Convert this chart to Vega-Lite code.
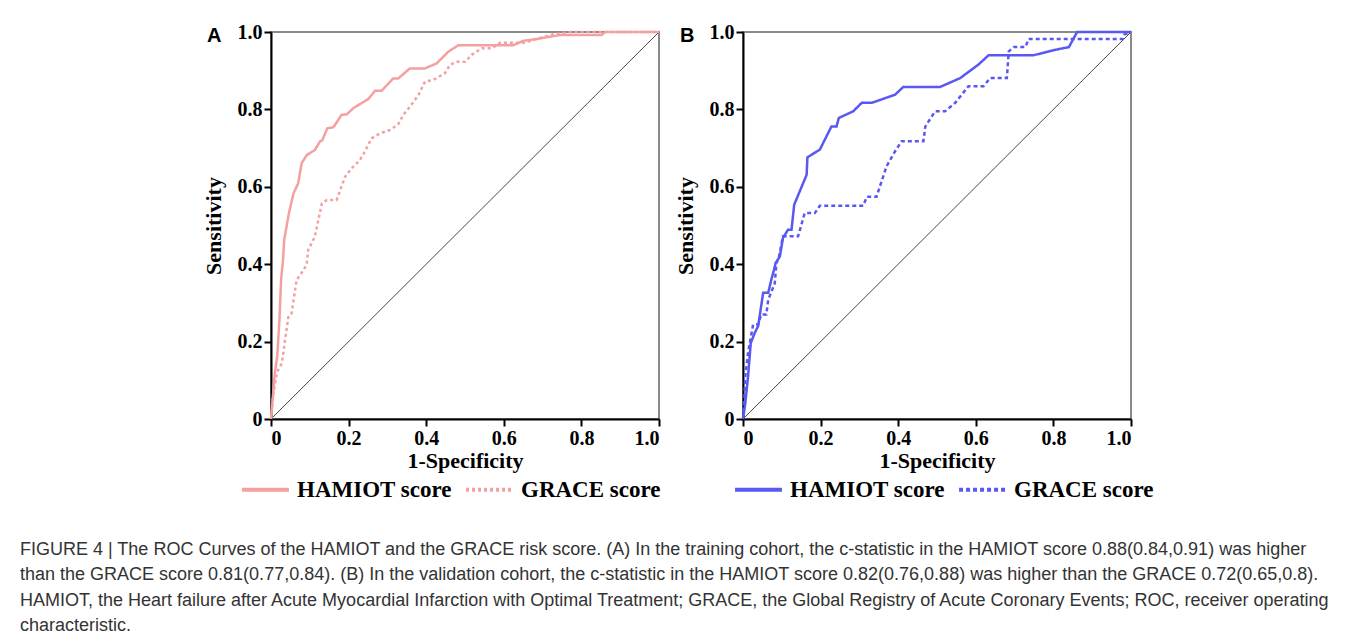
{
  "$schema": "https://vega.github.io/schema/vega-lite/v6.json",
  "background": "white",
  "padding": {"left": 20, "top": 21, "right": 5, "bottom": 5},
  "datasets": {
    "diag": [{"fpr": 0, "tpr": 0}, {"fpr": 1, "tpr": 1}],
    "roc": [
      {"panel": "A", "series": "HAMIOT score", "fpr": 0, "tpr": 0},
      {"panel": "A", "series": "HAMIOT score", "fpr": 0.005, "tpr": 0.06},
      {"panel": "A", "series": "HAMIOT score", "fpr": 0.010, "tpr": 0.12},
      {"panel": "A", "series": "HAMIOT score", "fpr": 0.016, "tpr": 0.161},
      {"panel": "A", "series": "HAMIOT score", "fpr": 0.022, "tpr": 0.26},
      {"panel": "A", "series": "HAMIOT score", "fpr": 0.026, "tpr": 0.36},
      {"panel": "A", "series": "HAMIOT score", "fpr": 0.031, "tpr": 0.411},
      {"panel": "A", "series": "HAMIOT score", "fpr": 0.034, "tpr": 0.463},
      {"panel": "A", "series": "HAMIOT score", "fpr": 0.046, "tpr": 0.531},
      {"panel": "A", "series": "HAMIOT score", "fpr": 0.058, "tpr": 0.583},
      {"panel": "A", "series": "HAMIOT score", "fpr": 0.070, "tpr": 0.609},
      {"panel": "A", "series": "HAMIOT score", "fpr": 0.079, "tpr": 0.661},
      {"panel": "A", "series": "HAMIOT score", "fpr": 0.092, "tpr": 0.682},
      {"panel": "A", "series": "HAMIOT score", "fpr": 0.113, "tpr": 0.695},
      {"panel": "A", "series": "HAMIOT score", "fpr": 0.126, "tpr": 0.717},
      {"panel": "A", "series": "HAMIOT score", "fpr": 0.132, "tpr": 0.72},
      {"panel": "A", "series": "HAMIOT score", "fpr": 0.145, "tpr": 0.751},
      {"panel": "A", "series": "HAMIOT score", "fpr": 0.161, "tpr": 0.754},
      {"panel": "A", "series": "HAMIOT score", "fpr": 0.182, "tpr": 0.786},
      {"panel": "A", "series": "HAMIOT score", "fpr": 0.195, "tpr": 0.787},
      {"panel": "A", "series": "HAMIOT score", "fpr": 0.212, "tpr": 0.803},
      {"panel": "A", "series": "HAMIOT score", "fpr": 0.251, "tpr": 0.827},
      {"panel": "A", "series": "HAMIOT score", "fpr": 0.268, "tpr": 0.848},
      {"panel": "A", "series": "HAMIOT score", "fpr": 0.285, "tpr": 0.848},
      {"panel": "A", "series": "HAMIOT score", "fpr": 0.315, "tpr": 0.880},
      {"panel": "A", "series": "HAMIOT score", "fpr": 0.328, "tpr": 0.880},
      {"panel": "A", "series": "HAMIOT score", "fpr": 0.358, "tpr": 0.906},
      {"panel": "A", "series": "HAMIOT score", "fpr": 0.397, "tpr": 0.906},
      {"panel": "A", "series": "HAMIOT score", "fpr": 0.427, "tpr": 0.919},
      {"panel": "A", "series": "HAMIOT score", "fpr": 0.457, "tpr": 0.949},
      {"panel": "A", "series": "HAMIOT score", "fpr": 0.483, "tpr": 0.966},
      {"panel": "A", "series": "HAMIOT score", "fpr": 0.625, "tpr": 0.966},
      {"panel": "A", "series": "HAMIOT score", "fpr": 0.650, "tpr": 0.977},
      {"panel": "A", "series": "HAMIOT score", "fpr": 0.685, "tpr": 0.982},
      {"panel": "A", "series": "HAMIOT score", "fpr": 0.719, "tpr": 0.988},
      {"panel": "A", "series": "HAMIOT score", "fpr": 0.745, "tpr": 0.992},
      {"panel": "A", "series": "HAMIOT score", "fpr": 0.852, "tpr": 0.992},
      {"panel": "A", "series": "HAMIOT score", "fpr": 0.861, "tpr": 1.0},
      {"panel": "A", "series": "HAMIOT score", "fpr": 1.0, "tpr": 1.0},

      {"panel": "A", "series": "GRACE score", "fpr": 0, "tpr": 0},
      {"panel": "A", "series": "GRACE score", "fpr": 0.006, "tpr": 0.066},
      {"panel": "A", "series": "GRACE score", "fpr": 0.016, "tpr": 0.122},
      {"panel": "A", "series": "GRACE score", "fpr": 0.028, "tpr": 0.144},
      {"panel": "A", "series": "GRACE score", "fpr": 0.036, "tpr": 0.204},
      {"panel": "A", "series": "GRACE score", "fpr": 0.045, "tpr": 0.264},
      {"panel": "A", "series": "GRACE score", "fpr": 0.053, "tpr": 0.273},
      {"panel": "A", "series": "GRACE score", "fpr": 0.066, "tpr": 0.359},
      {"panel": "A", "series": "GRACE score", "fpr": 0.084, "tpr": 0.385},
      {"panel": "A", "series": "GRACE score", "fpr": 0.092, "tpr": 0.40},
      {"panel": "A", "series": "GRACE score", "fpr": 0.096, "tpr": 0.437},
      {"panel": "A", "series": "GRACE score", "fpr": 0.113, "tpr": 0.471},
      {"panel": "A", "series": "GRACE score", "fpr": 0.122, "tpr": 0.514},
      {"panel": "A", "series": "GRACE score", "fpr": 0.131, "tpr": 0.557},
      {"panel": "A", "series": "GRACE score", "fpr": 0.144, "tpr": 0.566},
      {"panel": "A", "series": "GRACE score", "fpr": 0.169, "tpr": 0.566},
      {"panel": "A", "series": "GRACE score", "fpr": 0.191, "tpr": 0.626},
      {"panel": "A", "series": "GRACE score", "fpr": 0.208, "tpr": 0.648},
      {"panel": "A", "series": "GRACE score", "fpr": 0.229, "tpr": 0.669},
      {"panel": "A", "series": "GRACE score", "fpr": 0.242, "tpr": 0.691},
      {"panel": "A", "series": "GRACE score", "fpr": 0.259, "tpr": 0.725},
      {"panel": "A", "series": "GRACE score", "fpr": 0.281, "tpr": 0.738},
      {"panel": "A", "series": "GRACE score", "fpr": 0.307, "tpr": 0.747},
      {"panel": "A", "series": "GRACE score", "fpr": 0.328, "tpr": 0.762},
      {"panel": "A", "series": "GRACE score", "fpr": 0.341, "tpr": 0.786},
      {"panel": "A", "series": "GRACE score", "fpr": 0.358, "tpr": 0.807},
      {"panel": "A", "series": "GRACE score", "fpr": 0.380, "tpr": 0.837},
      {"panel": "A", "series": "GRACE score", "fpr": 0.397, "tpr": 0.872},
      {"panel": "A", "series": "GRACE score", "fpr": 0.418, "tpr": 0.876},
      {"panel": "A", "series": "GRACE score", "fpr": 0.448, "tpr": 0.893},
      {"panel": "A", "series": "GRACE score", "fpr": 0.461, "tpr": 0.915},
      {"panel": "A", "series": "GRACE score", "fpr": 0.479, "tpr": 0.923},
      {"panel": "A", "series": "GRACE score", "fpr": 0.500, "tpr": 0.923},
      {"panel": "A", "series": "GRACE score", "fpr": 0.517, "tpr": 0.941},
      {"panel": "A", "series": "GRACE score", "fpr": 0.543, "tpr": 0.958},
      {"panel": "A", "series": "GRACE score", "fpr": 0.569, "tpr": 0.958},
      {"panel": "A", "series": "GRACE score", "fpr": 0.590, "tpr": 0.972},
      {"panel": "A", "series": "GRACE score", "fpr": 0.650, "tpr": 0.972},
      {"panel": "A", "series": "GRACE score", "fpr": 0.685, "tpr": 0.982},
      {"panel": "A", "series": "GRACE score", "fpr": 0.728, "tpr": 0.994},
      {"panel": "A", "series": "GRACE score", "fpr": 0.771, "tpr": 1.0},
      {"panel": "A", "series": "GRACE score", "fpr": 1.0, "tpr": 1.0},

      {"panel": "B", "series": "HAMIOT score", "fpr": 0, "tpr": 0},
      {"panel": "B", "series": "HAMIOT score", "fpr": 0.006, "tpr": 0.041},
      {"panel": "B", "series": "HAMIOT score", "fpr": 0.013, "tpr": 0.110},
      {"panel": "B", "series": "HAMIOT score", "fpr": 0.020, "tpr": 0.196},
      {"panel": "B", "series": "HAMIOT score", "fpr": 0.030, "tpr": 0.222},
      {"panel": "B", "series": "HAMIOT score", "fpr": 0.039, "tpr": 0.240},
      {"panel": "B", "series": "HAMIOT score", "fpr": 0.052, "tpr": 0.326},
      {"panel": "B", "series": "HAMIOT score", "fpr": 0.065, "tpr": 0.326},
      {"panel": "B", "series": "HAMIOT score", "fpr": 0.069, "tpr": 0.343},
      {"panel": "B", "series": "HAMIOT score", "fpr": 0.073, "tpr": 0.360},
      {"panel": "B", "series": "HAMIOT score", "fpr": 0.080, "tpr": 0.386},
      {"panel": "B", "series": "HAMIOT score", "fpr": 0.084, "tpr": 0.403},
      {"panel": "B", "series": "HAMIOT score", "fpr": 0.095, "tpr": 0.420},
      {"panel": "B", "series": "HAMIOT score", "fpr": 0.103, "tpr": 0.468},
      {"panel": "B", "series": "HAMIOT score", "fpr": 0.116, "tpr": 0.489},
      {"panel": "B", "series": "HAMIOT score", "fpr": 0.125, "tpr": 0.489},
      {"panel": "B", "series": "HAMIOT score", "fpr": 0.132, "tpr": 0.554},
      {"panel": "B", "series": "HAMIOT score", "fpr": 0.164, "tpr": 0.631},
      {"panel": "B", "series": "HAMIOT score", "fpr": 0.166, "tpr": 0.676},
      {"panel": "B", "series": "HAMIOT score", "fpr": 0.177, "tpr": 0.683},
      {"panel": "B", "series": "HAMIOT score", "fpr": 0.198, "tpr": 0.696},
      {"panel": "B", "series": "HAMIOT score", "fpr": 0.228, "tpr": 0.756},
      {"panel": "B", "series": "HAMIOT score", "fpr": 0.241, "tpr": 0.756},
      {"panel": "B", "series": "HAMIOT score", "fpr": 0.247, "tpr": 0.778},
      {"panel": "B", "series": "HAMIOT score", "fpr": 0.284, "tpr": 0.795},
      {"panel": "B", "series": "HAMIOT score", "fpr": 0.306, "tpr": 0.817},
      {"panel": "B", "series": "HAMIOT score", "fpr": 0.332, "tpr": 0.817},
      {"panel": "B", "series": "HAMIOT score", "fpr": 0.392, "tpr": 0.838},
      {"panel": "B", "series": "HAMIOT score", "fpr": 0.413, "tpr": 0.858},
      {"panel": "B", "series": "HAMIOT score", "fpr": 0.508, "tpr": 0.858},
      {"panel": "B", "series": "HAMIOT score", "fpr": 0.560, "tpr": 0.881},
      {"panel": "B", "series": "HAMIOT score", "fpr": 0.607, "tpr": 0.916},
      {"panel": "B", "series": "HAMIOT score", "fpr": 0.633, "tpr": 0.940},
      {"panel": "B", "series": "HAMIOT score", "fpr": 0.749, "tpr": 0.940},
      {"panel": "B", "series": "HAMIOT score", "fpr": 0.805, "tpr": 0.954},
      {"panel": "B", "series": "HAMIOT score", "fpr": 0.840, "tpr": 0.961},
      {"panel": "B", "series": "HAMIOT score", "fpr": 0.861, "tpr": 1.0},
      {"panel": "B", "series": "HAMIOT score", "fpr": 1.0, "tpr": 1.0},

      {"panel": "B", "series": "GRACE score", "fpr": 0, "tpr": 0},
      {"panel": "B", "series": "GRACE score", "fpr": 0.003, "tpr": 0.04},
      {"panel": "B", "series": "GRACE score", "fpr": 0.006, "tpr": 0.110},
      {"panel": "B", "series": "GRACE score", "fpr": 0.013, "tpr": 0.171},
      {"panel": "B", "series": "GRACE score", "fpr": 0.026, "tpr": 0.244},
      {"panel": "B", "series": "GRACE score", "fpr": 0.039, "tpr": 0.244},
      {"panel": "B", "series": "GRACE score", "fpr": 0.047, "tpr": 0.270},
      {"panel": "B", "series": "GRACE score", "fpr": 0.060, "tpr": 0.270},
      {"panel": "B", "series": "GRACE score", "fpr": 0.065, "tpr": 0.308},
      {"panel": "B", "series": "GRACE score", "fpr": 0.082, "tpr": 0.351},
      {"panel": "B", "series": "GRACE score", "fpr": 0.086, "tpr": 0.403},
      {"panel": "B", "series": "GRACE score", "fpr": 0.092, "tpr": 0.415},
      {"panel": "B", "series": "GRACE score", "fpr": 0.103, "tpr": 0.472},
      {"panel": "B", "series": "GRACE score", "fpr": 0.142, "tpr": 0.472},
      {"panel": "B", "series": "GRACE score", "fpr": 0.159, "tpr": 0.532},
      {"panel": "B", "series": "GRACE score", "fpr": 0.185, "tpr": 0.532},
      {"panel": "B", "series": "GRACE score", "fpr": 0.198, "tpr": 0.551},
      {"panel": "B", "series": "GRACE score", "fpr": 0.310, "tpr": 0.551},
      {"panel": "B", "series": "GRACE score", "fpr": 0.319, "tpr": 0.574},
      {"panel": "B", "series": "GRACE score", "fpr": 0.344, "tpr": 0.574},
      {"panel": "B", "series": "GRACE score", "fpr": 0.370, "tpr": 0.653},
      {"panel": "B", "series": "GRACE score", "fpr": 0.392, "tpr": 0.692},
      {"panel": "B", "series": "GRACE score", "fpr": 0.409, "tpr": 0.718},
      {"panel": "B", "series": "GRACE score", "fpr": 0.465, "tpr": 0.718},
      {"panel": "B", "series": "GRACE score", "fpr": 0.470, "tpr": 0.756},
      {"panel": "B", "series": "GRACE score", "fpr": 0.495, "tpr": 0.795},
      {"panel": "B", "series": "GRACE score", "fpr": 0.521, "tpr": 0.795},
      {"panel": "B", "series": "GRACE score", "fpr": 0.547, "tpr": 0.817},
      {"panel": "B", "series": "GRACE score", "fpr": 0.581, "tpr": 0.860},
      {"panel": "B", "series": "GRACE score", "fpr": 0.620, "tpr": 0.860},
      {"panel": "B", "series": "GRACE score", "fpr": 0.637, "tpr": 0.881},
      {"panel": "B", "series": "GRACE score", "fpr": 0.680, "tpr": 0.881},
      {"panel": "B", "series": "GRACE score", "fpr": 0.685, "tpr": 0.950},
      {"panel": "B", "series": "GRACE score", "fpr": 0.698, "tpr": 0.961},
      {"panel": "B", "series": "GRACE score", "fpr": 0.728, "tpr": 0.961},
      {"panel": "B", "series": "GRACE score", "fpr": 0.736, "tpr": 0.982},
      {"panel": "B", "series": "GRACE score", "fpr": 0.978, "tpr": 0.982},
      {"panel": "B", "series": "GRACE score", "fpr": 0.982, "tpr": 0.993},
      {"panel": "B", "series": "GRACE score", "fpr": 1.0, "tpr": 1.0}
    ]
  },
  "title": {
    "text": [
      "FIGURE 4 | The ROC Curves of the HAMIOT and the GRACE risk score. (A) In the training cohort, the c-statistic in the HAMIOT score 0.88(0.84,0.91) was higher",
      "than the GRACE score 0.81(0.77,0.84). (B) In the validation cohort, the c-statistic in the HAMIOT score 0.82(0.76,0.88) was higher than the GRACE 0.72(0.65,0.8).",
      "HAMIOT, the Heart failure after Acute Myocardial Infarction with Optimal Treatment; GRACE, the Global Registry of Acute Coronary Events; ROC, receiver operating",
      "characteristic."
    ],
    "orient": "bottom",
    "anchor": "start",
    "frame": "bounds",
    "align": "left",
    "baseline": "top",
    "offset": 38,
    "dx": -181,
    "font": "Liberation Sans",
    "fontSize": 18,
    "fontWeight": "normal",
    "color": "#333333",
    "lineHeight": 25.4
  },
  "spacing": 8,
  "hconcat": [
    {
      "width": 388,
      "height": 387,
      "title": {"text": "A", "orient": "none", "anchor": "start", "frame": "group", "align": "left", "baseline": "alphabetic", "dx": -64, "dy": 10, "font": "Liberation Sans", "fontSize": 20, "fontWeight": "bold", "color": "#000000"},
      "data": {"name": "roc"},
      "encoding": {
        "x": {"field": "fpr", "type": "quantitative", "scale": {"domain": [0, 1], "nice": false}, "axis": {"title": "1-Specificity", "values": [0, 0.2, 0.4, 0.6, 0.8, 1], "labelExpr": "datum.value == 0 ? '0' : format(datum.value, '.1f')"}},
        "y": {"field": "tpr", "type": "quantitative", "scale": {"domain": [0, 1], "nice": false}, "axis": {"title": "Sensitivity", "values": [0, 0.2, 0.4, 0.6, 0.8, 1], "labelExpr": "datum.value == 0 ? '0' : format(datum.value, '.1f')"}}
      },
      "layer": [
        {"data": {"name": "diag"}, "mark": {"type": "line", "color": "#4a4a4a", "strokeWidth": 1}},
        {
          "transform": [{"filter": "datum.panel == 'A'"}],
          "mark": {"type": "line", "color": "#f5a0a0", "strokeWidth": 2.5},
          "encoding": {
            "strokeDash": {"field": "series", "type": "nominal", "scale": {"domain": ["HAMIOT score", "GRACE score"], "range": [[1, 0], [3, 3]]},
              "legend": {"orient": "none", "legendX": -31, "legendY": 432, "direction": "horizontal", "title": null, "symbolStrokeColor": "#f5a0a0"}},
            "order": [{"field": "fpr", "type": "quantitative"}, {"field": "tpr", "type": "quantitative"}]
          }
        }
      ]
    },
    {
      "width": 388,
      "height": 387,
      "title": {"text": "B", "orient": "none", "anchor": "start", "frame": "group", "align": "left", "baseline": "alphabetic", "dx": -63, "dy": 10, "font": "Liberation Sans", "fontSize": 20, "fontWeight": "bold", "color": "#000000"},
      "data": {"name": "roc"},
      "encoding": {
        "x": {"field": "fpr", "type": "quantitative", "scale": {"domain": [0, 1], "nice": false}, "axis": {"title": "1-Specificity", "values": [0, 0.2, 0.4, 0.6, 0.8, 1], "labelExpr": "datum.value == 0 ? '0' : format(datum.value, '.1f')"}},
        "y": {"field": "tpr", "type": "quantitative", "scale": {"domain": [0, 1], "nice": false}, "axis": {"title": "Sensitivity", "values": [0, 0.2, 0.4, 0.6, 0.8, 1], "labelExpr": "datum.value == 0 ? '0' : format(datum.value, '.1f')"}}
      },
      "layer": [
        {"data": {"name": "diag"}, "mark": {"type": "line", "color": "#4a4a4a", "strokeWidth": 1}},
        {
          "transform": [{"filter": "datum.panel == 'B'"}],
          "mark": {"type": "line", "color": "#5858f2", "strokeWidth": 2.5},
          "encoding": {
            "strokeDash": {"field": "series", "type": "nominal", "scale": {"domain": ["HAMIOT score", "GRACE score"], "range": [[1, 0], [4, 3]]},
              "legend": {"orient": "none", "legendX": -10, "legendY": 432, "direction": "horizontal", "title": null, "symbolStrokeColor": "#5858f2"}},
            "order": [{"field": "fpr", "type": "quantitative"}, {"field": "tpr", "type": "quantitative"}]
          }
        }
      ]
    }
  ],
  "resolve": {"scale": {"strokeDash": "independent"}, "legend": {"strokeDash": "independent"}},
  "config": {
    "view": {"stroke": "#8a8a8a", "strokeWidth": 2},
    "axis": {
      "domainColor": "#000000", "domainWidth": 2, "tickColor": "#000000", "tickWidth": 2, "tickSize": 7,
      "labelFont": "Liberation Serif", "labelFontSize": 20, "labelFontWeight": "bold", "labelColor": "#000000", "labelPadding": 2,
      "titleFont": "Liberation Serif", "titleFontSize": 22, "titleFontWeight": "bold", "titleColor": "#000000", "grid": false
    },
    "axisX": {"titlePadding": 2, "labelDx": -5},
    "axisY": {"titlePadding": 12},
    "legend": {
      "symbolType": "stroke", "symbolSize": 2200, "symbolStrokeWidth": 4,
      "labelFont": "Liberation Serif", "labelFontSize": 23, "labelFontWeight": "bold", "labelColor": "#000000",
      "labelOffset": 6, "columnPadding": 6, "labelLimit": 300
    }
  }
}
